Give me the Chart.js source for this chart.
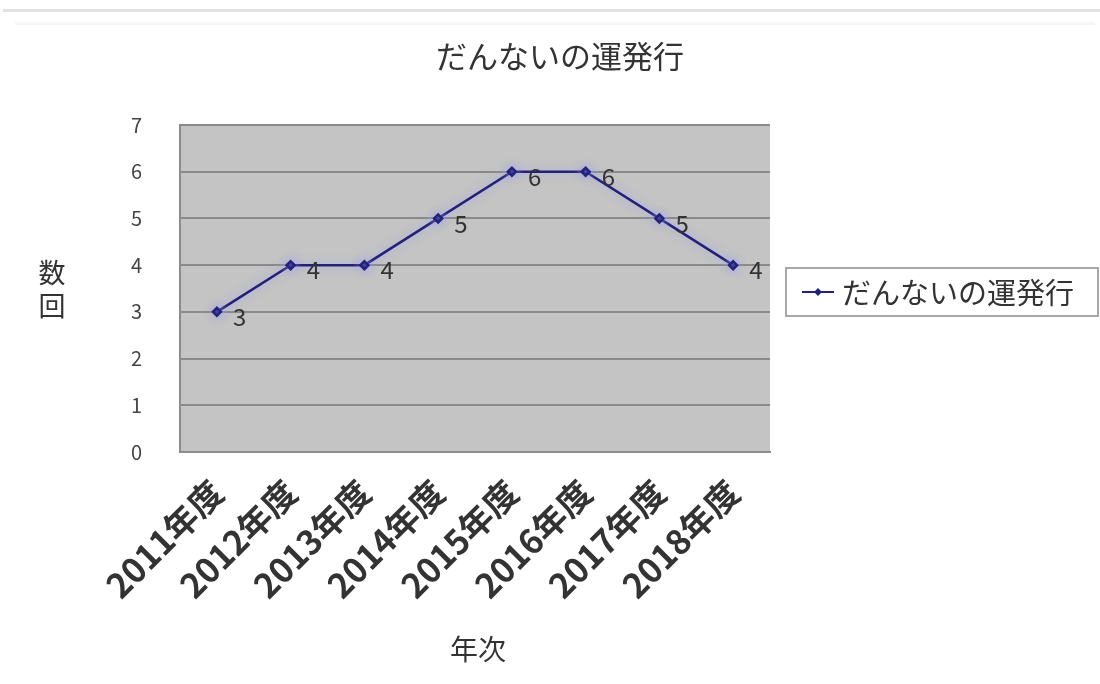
<!DOCTYPE html>
<html>
<head>
<meta charset="utf-8">
<script src="https://cdn.jsdelivr.net/npm/chart.js@4/dist/chart.umd.min.js"></script>
<style>
  html, body { margin: 0; padding: 0; background: #ffffff; }
  #wrap { width: 1100px; height: 684px; }
</style>
</head>
<body>
<div id="wrap"><canvas id="c" width="1100" height="684"></canvas></div>
<script>
// 年度ごとの運発行回数
const categories = ['2011年度', '2012年度', '2013年度', '2014年度', '2015年度', '2016年度', '2017年度', '2018年度'];
const counts = [3, 4, 4, 5, 6, 6, 5, 4];
const yTicks = [0, 1, 2, 3, 4, 5, 6, 7];

const seriesName = 'だんないの運発行';
const chartTitle = 'だんないの運発行';
const xTitle = '年次';
const yTitle = ['数', '回'];

const JP = "'Noto Sans CJK JP', 'Noto Sans', sans-serif";
const LINE = '#22227a';

const decor = {
  id: 'decor',
  beforeDraw(chart) {
    const { ctx, chartArea: a } = chart;
    ctx.save();
    // 上端の罫線
    ctx.fillStyle = '#e2e2e2';
    ctx.fillRect(3, 9, 1097, 3);
    ctx.fillStyle = '#f6f6f6';
    ctx.fillRect(15, 22, 1080, 3);
    // プロットエリア
    ctx.fillStyle = '#c4c4c4';
    ctx.fillRect(a.left, a.top, a.right - a.left, a.bottom - a.top);
    ctx.restore();
  },
  beforeDatasetDraw(chart) {
    const ctx = chart.ctx;
    ctx.save();
    ctx.shadowColor = 'rgba(160,160,240,0.9)';
    ctx.shadowBlur = 10;
  },
  afterDatasetDraw(chart) {
    chart.ctx.restore();
  },
  afterDraw(chart) {
    const { ctx } = chart;
    ctx.save();
    ctx.fillStyle = '#333333';
    ctx.textAlign = 'center';
    ctx.textBaseline = 'middle';

    // タイトル
    ctx.font = `31px ${JP}`;
    ctx.fillText(chartTitle, 560, 56);

    // 縦軸タイトル(縦書き)
    ctx.font = `27px ${JP}`;
    yTitle.forEach((ch, i) => ctx.fillText(ch, 52, 273 + i * 33));

    // 横軸タイトル
    ctx.font = `28px ${JP}`;
    ctx.fillText(xTitle, 478, 649);

    // データラベル
    ctx.font = `24px ${JP}`;
    ctx.textAlign = 'left';
    const meta = chart.getDatasetMeta(0);
    meta.data.forEach((pt, i) => {
      ctx.fillText(String(counts[i]), pt.x + 16, pt.y + 5);
    });

    // 凡例
    const lx = 786, ly = 268, lw = 312, lh = 48;
    ctx.strokeStyle = '#a8a8a8';
    ctx.lineWidth = 2;
    ctx.strokeRect(lx, ly, lw, lh);
    const cy = ly + lh / 2;
    ctx.strokeStyle = LINE;
    ctx.lineWidth = 2;
    ctx.beginPath();
    ctx.moveTo(802, cy);
    ctx.lineTo(834, cy);
    ctx.stroke();
    ctx.fillStyle = LINE;
    ctx.beginPath();
    ctx.moveTo(818, cy - 4); ctx.lineTo(822, cy); ctx.lineTo(818, cy + 4); ctx.lineTo(814, cy);
    ctx.closePath();
    ctx.fill();
    ctx.fillStyle = '#333333';
    ctx.font = `29px ${JP}`;
    ctx.fillText(seriesName, 842, cy + 1);
    ctx.restore();
  }
};

new Chart(document.getElementById('c'), {
  type: 'line',
  data: {
    labels: categories,
    datasets: [{
      label: seriesName,
      data: counts,
      borderColor: LINE,
      backgroundColor: LINE,
      borderWidth: 2.5,
      tension: 0,
      pointStyle: 'rectRot',
      pointRadius: 4,
      pointHoverRadius: 4
    }]
  },
  options: {
    responsive: false,
    animation: false,
    events: [],
    layout: { padding: { top: 125, right: 330, left: 0, bottom: 0 } },
    plugins: {
      legend: { display: false },
      title: { display: false },
      tooltip: { enabled: false }
    },
    scales: {
      x: {
        offset: true,
        grid: { display: false, drawTicks: false },
        border: { display: true, color: '#8c8c8c', width: 2 },
        ticks: {
          minRotation: 45,
          maxRotation: 45,
          padding: 20,
          color: '#333333',
          font: { family: JP, size: 34, weight: 'bold' }
        },
        afterFit(s) { s.height = 232; }
      },
      y: {
        min: 0,
        max: 7,
        afterBuildTicks(s) { s.ticks = yTicks.map(v => ({ value: v })); },
        grid: { color: '#8a8a8a', lineWidth: 2, drawTicks: false },
        border: { display: true, color: '#8c8c8c', width: 2 },
        ticks: {
          padding: 38,
          color: '#444444',
          font: { family: JP, size: 20 }
        },
        afterFit(s) { s.width = 180; }
      }
    }
  },
  plugins: [decor]
});
</script>
</body>
</html>
